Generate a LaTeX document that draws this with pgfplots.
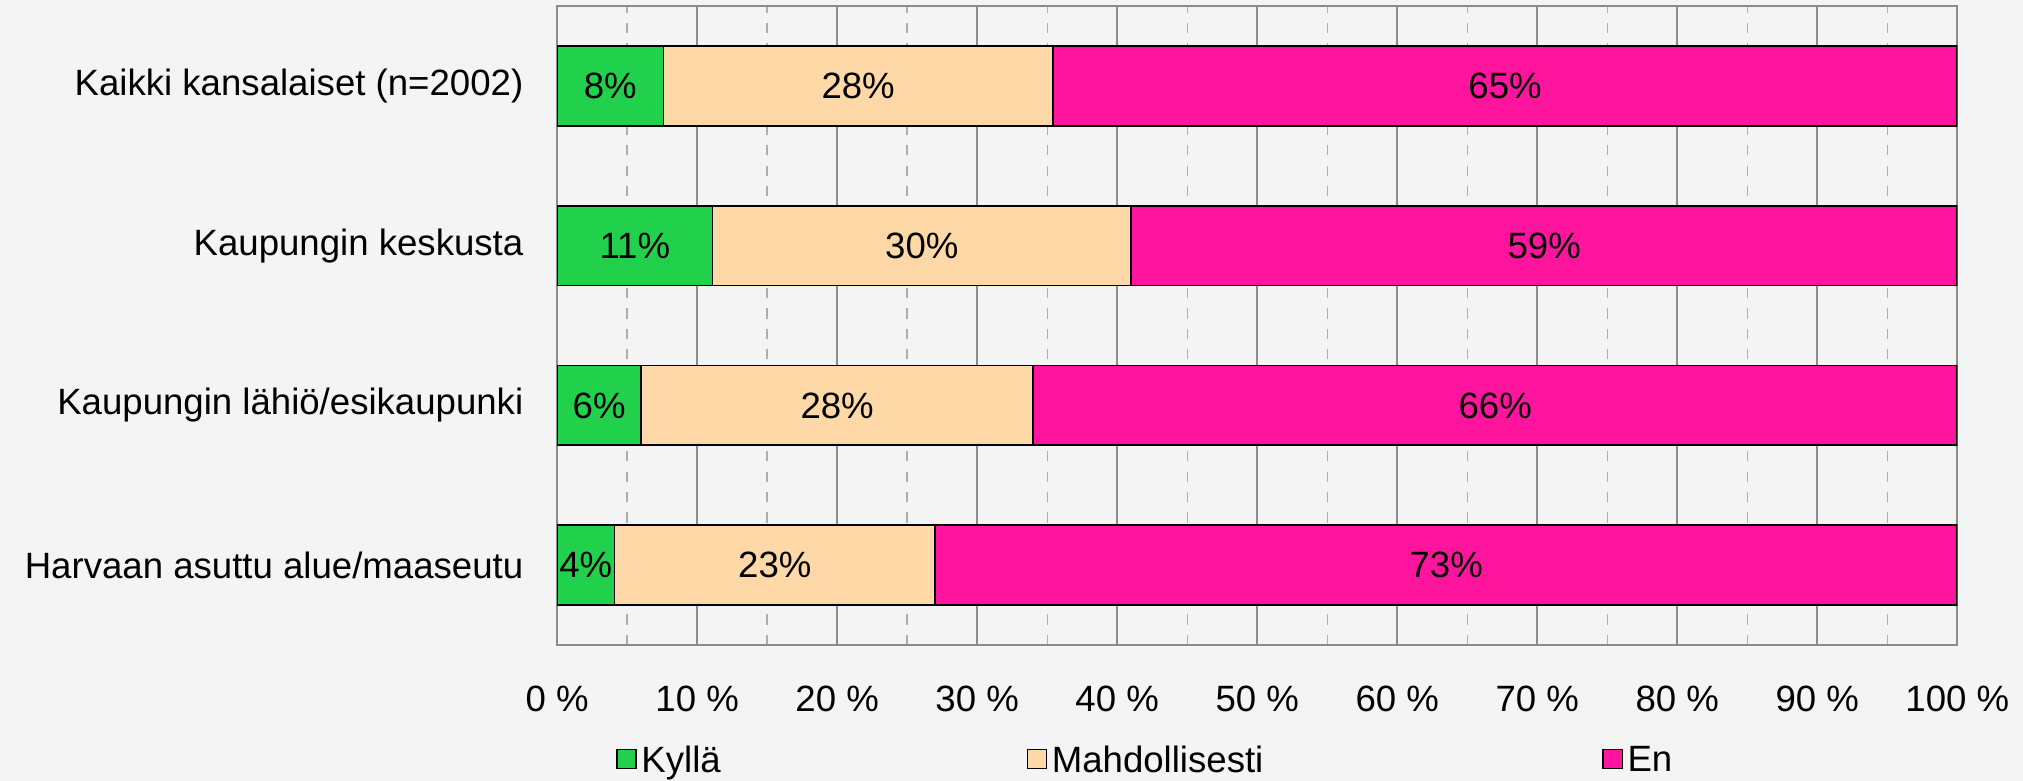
\documentclass[border=0pt]{standalone}
\usepackage{pgfplots}
\pgfplotsset{compat=1.18}
\usepackage{fontspec}
\setmainfont{Liberation Sans}
\definecolor{kylla}{HTML}{22D14B}
\definecolor{mahd}{HTML}{FED8A6}
\definecolor{en}{HTML}{FF149E}
\definecolor{bg}{HTML}{F4F4F4}
\definecolor{gridmajor}{HTML}{8C8C8C}
\definecolor{gridminor}{HTML}{ADADAD}
\pgfplotsset{
  frame/.style={scale only axis, width=466.7pt, height=213pt,
    xmin=0, xmax=100, ymin=-0.5, ymax=3.5},
}
\begin{document}
\fontsize{12.2pt}{14pt}\selectfont
\begin{tikzpicture}
% page background and picture size
\path[use as bounding box, fill=bg] (-185.7pt,-45.3pt) rectangle (488.6pt,215pt);
\begin{axis}[
  frame,
  xbar stacked,
  bar width=0.5,
  xtick={0,10,...,100}, minor xtick={5,15,...,95},
  xmajorgrids, xminorgrids,
  major grid style={gridmajor, line width=0.55pt},
  minor grid style={gridminor, line width=0.45pt, dash pattern=on 3.4pt off 3.4pt},
  tick style={draw=none},
  axis line style={gridmajor, line width=0.6pt},
  ytick={0,1,2,3},
  yticklabels={Harvaan asuttu alue/maaseutu, Kaupungin lähiö/esikaupunki, Kaupungin keskusta, Kaikki kansalaiset (n=2002)},
  xticklabel={\pgfmathprintnumber{\tick}~\%},
  /pgf/number format/assume math mode=true,
  xticklabel style={yshift=-9.5pt},
  yticklabel style={xshift=-7pt},
  legend columns=3,
  legend style={at={(axis description cs:0,0)}, anchor=west, xshift=19.5pt, yshift=-38pt,
    draw=none, fill=none, inner sep=0pt, cells={anchor=west},
    nodes={inner sep=0pt, text depth=0pt},
    /tikz/every odd column/.append style={column sep=1.5pt}},
  legend image code/.code={\draw[#1, draw=black, line width=0.5pt] (0pt,-3.2pt) rectangle (6.4pt,3.2pt);},
]
\addplot[fill=kylla, draw=black, line width=0.6pt] coordinates {(7.6,3) (11.1,2) (6.0,1) (4.1,0)};
\addlegendentry{\makebox[128.4pt][l]{Kyllä}}
\addplot[fill=mahd, draw=black, line width=0.6pt] coordinates {(27.8,3) (29.9,2) (28.0,1) (22.9,0)};
\addlegendentry{\makebox[183.5pt][l]{Mahdollisesti}}
\addplot[fill=en, draw=black, line width=0.6pt] coordinates {(64.6,3) (59.0,2) (66.0,1) (73.0,0)};
\addlegendentry{En}
\end{axis}
% value labels, at the middle of each segment
\begin{axis}[frame, hide axis,
  nodes near coords, point meta=explicit symbolic,
  every node near coord/.append style={anchor=center, black}]
\addplot[draw=none] coordinates {(3.8,3) [8\%] (5.55,2) [11\%] (3.0,1) [6\%] (2.05,0) [4\%]};
\addplot[draw=none] coordinates {(21.5,3) [28\%] (26.05,2) [30\%] (20.0,1) [28\%] (15.55,0) [23\%]};
\addplot[draw=none] coordinates {(67.7,3) [65\%] (70.5,2) [59\%] (67.0,1) [66\%] (63.5,0) [73\%]};
\end{axis}
\end{tikzpicture}
\end{document}
